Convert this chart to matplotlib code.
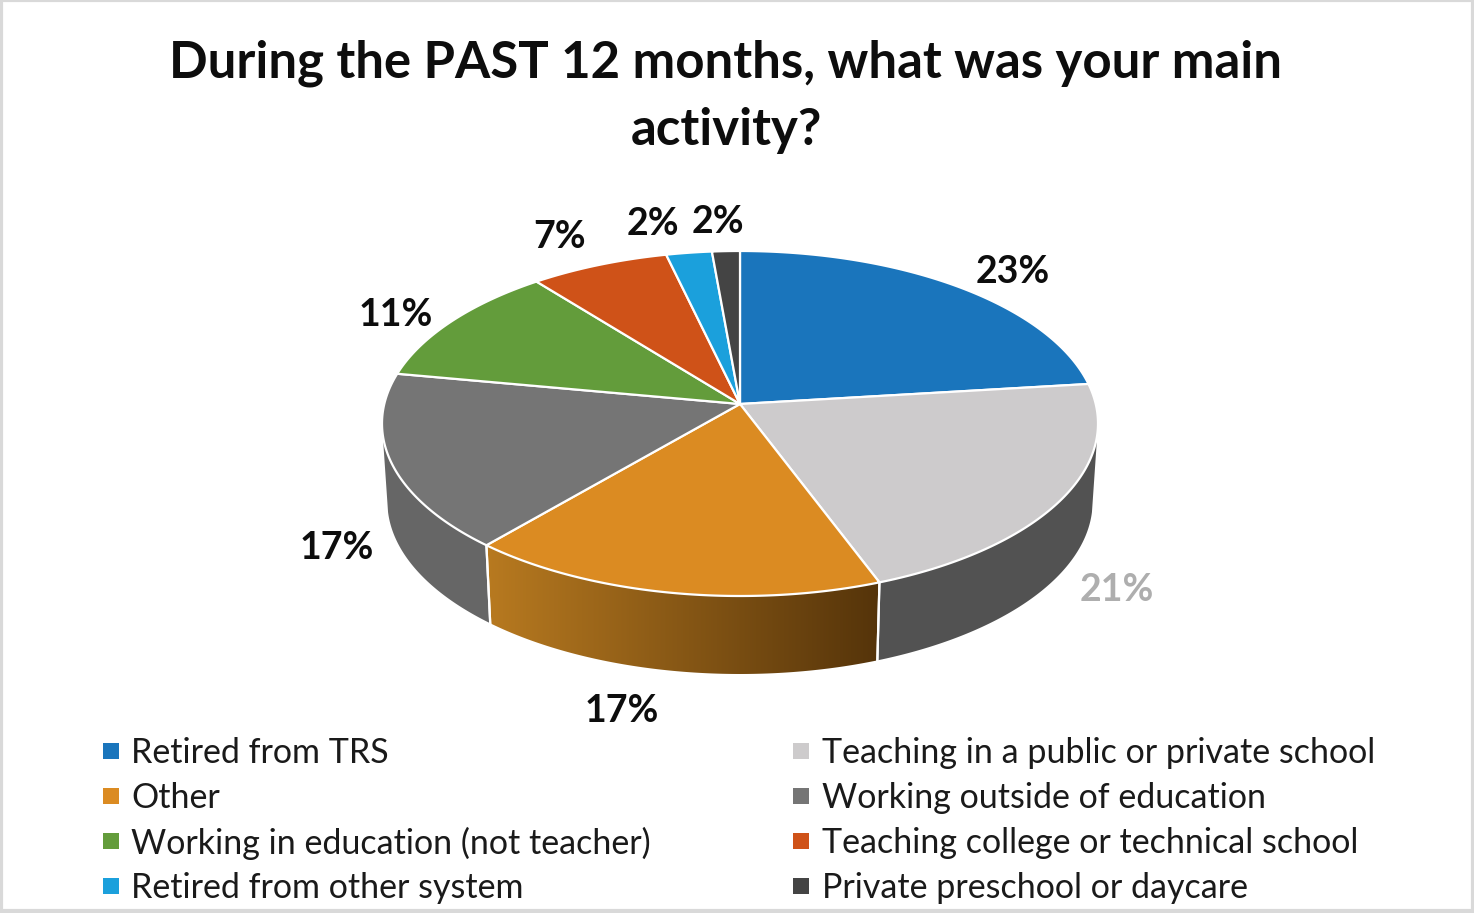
#!/usr/bin/env python
# -*- coding: utf-8 -*-
import matplotlib
matplotlib.use('Agg')
import matplotlib.pyplot as plt
import numpy as np
from matplotlib.patches import Polygon, Rectangle

plt.rcParams['font.family'] = ['Lato', 'DejaVu Sans']

# Data
categories = ['Retired from TRS', 'Teaching in a public or private school', 'Other',
              'Working outside of education', 'Working in education (not teacher)',
              'Teaching college or technical school', 'Retired from other system',
              'Private preschool or daycare']
values = [23.1, 21.2, 17.0, 16.6, 11.4, 7.0, 2.3, 1.4]
value_labels = ['23%', '21%', '17%', '17%', '11%', '7%', '2%', '2%']
colors = ['#1a75bc', '#cdcbcc', '#db8b22', '#757575', '#639c3b', '#cf5218', '#1ba0dc', '#444444']
wall_colors = [None, '#525252', None, '#666666', None, None, None, None]
title = 'During the PAST 12 months, what was your main\nactivity?'

# pie geometry, pixels
cx, cy = 740., 404.
a, b, k = 355.7, 170.3, 0.113
depth, shrink = 78., 0.985


def project(theta):
    # theta clockwise from top, perspective view of the unit circle
    x, y = np.sin(theta), np.cos(theta)
    w = 1 + k*y
    return cx + a*x/w, cy - b*y/w


def lower(theta):
    x, y = project(theta)
    return cx + (x - cx)*shrink, y + depth


fig = plt.figure(figsize=(14.74, 9.13), dpi=100)
ax = fig.add_axes([0, 0, 1, 1])
ax.set_xlim(0, 1474)
ax.set_ylim(913, 0)
ax.axis('off')

ax.add_patch(Rectangle((1, 0), 1472, 911, fc='none', ec='#d9d9d9', lw=3, zorder=10))

edges = 2*np.pi*np.concatenate(([0], np.cumsum(values)))/np.sum(values)
vis_lo, vis_hi = np.radians(100), np.radians(260)

# side walls
for i in range(len(values)):
    t0, t1 = max(edges[i], vis_lo), min(edges[i+1], vis_hi)
    if t1 <= t0:
        continue
    t = np.linspace(t0, t1, 120)
    xt, yt = project(t)
    xb, yb = lower(t)
    verts = np.column_stack((np.r_[xt, xb[::-1]], np.r_[yt, yb[::-1]]))
    if wall_colors[i] is not None:
        ax.add_patch(Polygon(verts, fc=wall_colors[i], ec='none', zorder=2))
    else:
        # orange wall has a left to right gradient
        poly = Polygon(verts, fc='none', ec='none', zorder=2)
        ax.add_patch(poly)
        shade = np.linspace(0, 1, 256)[None, :, None]
        c0 = np.array(matplotlib.colors.to_rgb('#b87a20'))
        c1 = np.array(matplotlib.colors.to_rgb('#55340a'))
        img = ax.imshow(c0 + (c1 - c0)*shade, extent=(xt.min(), xt.max(), 690, 530),
                        aspect='auto', zorder=2)
        img.set_clip_path(poly)
    # seams
    for tt in (t0, t1):
        if tt in edges:
            xs, ys = project(tt)
            xe, ye = lower(tt)
            ax.plot([xs, xe], [ys, ye], color='white', lw=1.6, zorder=3)

ax.set_xlim(0, 1474)
ax.set_ylim(913, 0)

# top faces
for i in range(len(values)):
    t = np.linspace(edges[i], edges[i+1], 200)
    x, y = project(t)
    verts = np.column_stack((np.r_[cx, x], np.r_[cy, y]))
    ax.add_patch(Polygon(verts, fc=colors[i], ec='white', lw=1.6, joinstyle='round', zorder=4))

# value labels
label_x = [1013, 1117, 622, 337, 396, 560, 653, 718]
label_y = [272, 590, 711, 548, 315, 237, 224, 222]
for i, s in enumerate(value_labels):
    ax.text(label_x[i], label_y[i], s, fontsize=27, fontweight='bold', ha='center', va='center',
            color='#aeaeae' if i == 1 else '#0d0d0d', zorder=6)

ax.text(726, 96.5, title, fontsize=36.6, fontweight='bold', ha='center', va='center',
        color='#0d0d0d', linespacing=1.52, zorder=6)

# legend
rows = [751, 796, 841, 886]
for i, name in enumerate(categories):
    col, row = i % 2, i//2
    ax.add_patch(Rectangle(((103, 793)[col], rows[row] - 8), 16, 16, fc=colors[i], ec='none', zorder=6))
    ax.text((131, 822)[col], rows[row] + 2, name, fontsize=24.45, ha='left', va='center',
            color='#1a1a1a', zorder=6)

fig.savefig('out.png', dpi=100)
